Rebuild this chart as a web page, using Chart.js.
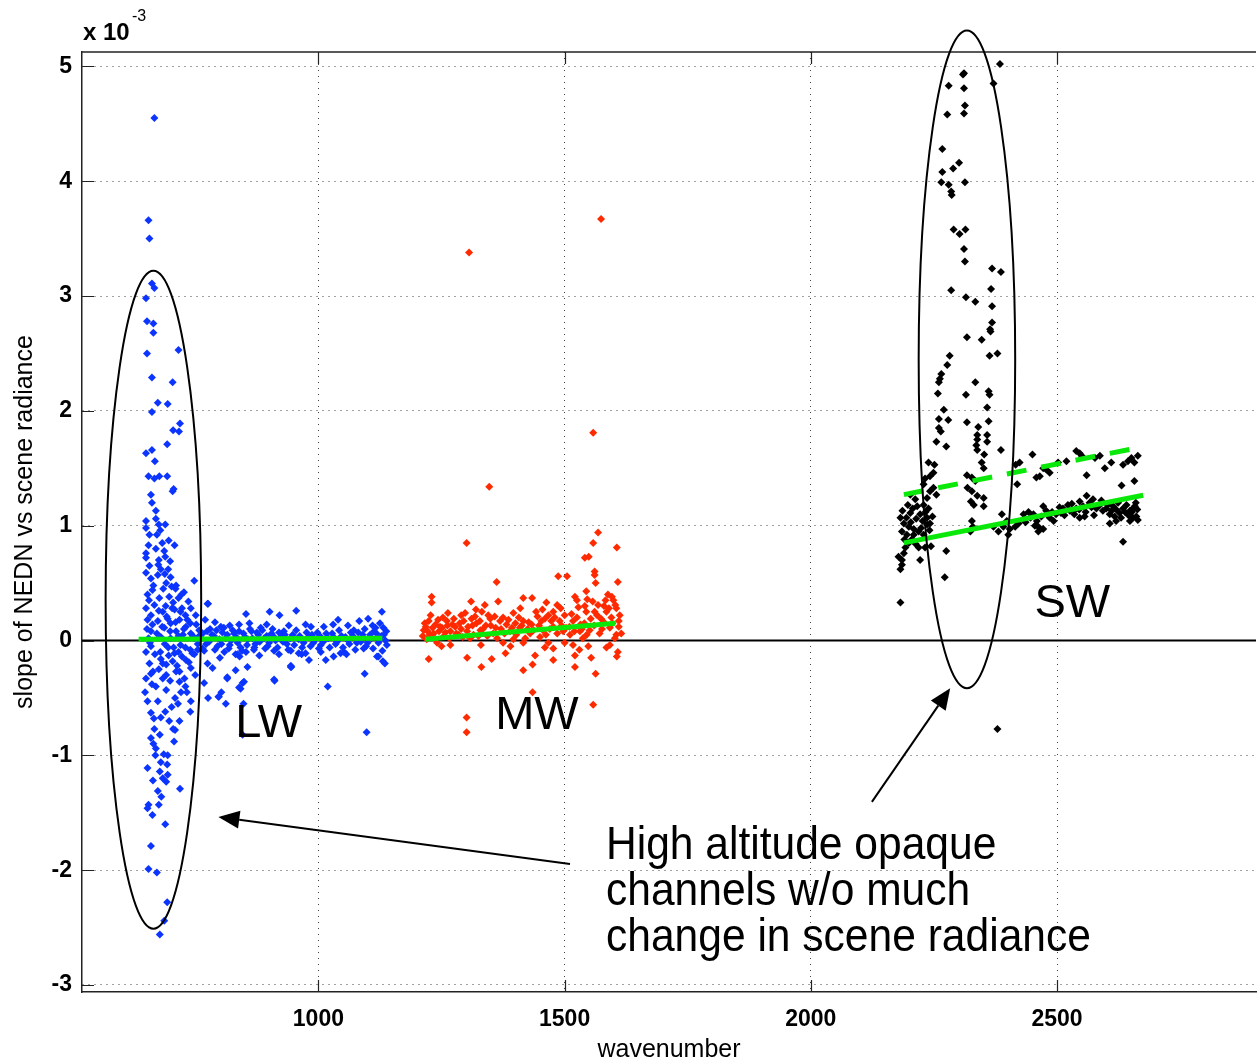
<!DOCTYPE html>
<html>
<head>
<meta charset="utf-8">
<title>slope of NEDN vs scene radiance</title>
<script src="https://cdn.jsdelivr.net/npm/chart.js@4.4.1/dist/chart.umd.min.js"></script>
<style>
  html, body { margin: 0; padding: 0; background: #fff; }
  #wrap { width: 1260px; height: 1064px; }
</style>
</head>
<body>
<div id="wrap"><canvas id="nednChart" width="1260" height="1064"></canvas></div>
<script>
// axis ranges and ticks (y in units of 1e-3)
const xMin = 520, xMax = 2904;
const yMin = -3.061, yMax = 5.125;
const xTicks = [1000, 1500, 2000, 2500];
const yTicks = [-3, -2, -1, 0, 1, 2, 3, 4, 5];

// LW band channels [wavenumber, slope]
const lwPoints = [
  [667,4.55],[655,3.66],[657,3.50],[662,3.11],[667,3.07],[650,2.98],[652,2.78],[665,2.76],[665,2.68],[716,2.53],
  [652,2.50],[662,2.29],[704,2.25],[674,2.07],[694,2.06],[662,1.99],[719,1.89],[705,1.83],[717,1.82],[693,1.71],
  [650,1.63],[662,1.66],[668,1.56],[655,1.43],[667,1.41],[677,1.43],[693,1.43],[706,1.32],[704,1.30],[660,1.27],
  [670,1.13],[650,1.04],[670,1.06],[676,1.01],[689,1.01],[650,0.98],[657,0.92],[679,0.96],[696,0.87],[708,0.83],
  [655,0.83],[650,0.76],[670,0.80],[687,0.78],[650,0.72],[676,0.70],[699,0.69],[689,0.73],[657,0.65],[650,0.59],
  [660,0.54],[674,0.57],[691,0.50],[711,0.48],[748,0.52],[727,0.42],[663,0.44],[653,0.40],[677,0.37],[697,0.38],
  [716,0.37],[650,0.28],[667,0.31],[684,0.25],[708,0.27],[723,0.28],[741,0.28],[775,0.32],[653,0.18],[674,0.17],
  [694,0.19],[718,0.18],[751,0.22],[660,0.08],[687,0.11],[711,0.08],[731,0.12],[758,0.09],
  [680,0.62],[700,0.55],[665,0.48],[685,0.45],[705,0.33],[730,0.22],[690,0.30],[660,0.22],[700,0.15],[740,0.15],
  [725,0.05],[745,0.04],[680,0.03],[700,0.02],[655,0.02],
  [853,0.23],[901,0.25],[921,0.22],[955,0.26],[1040,0.18],[1083,0.17],[1101,0.19],[1129,0.25],[1132,0.11],[776,0.32],
  [974,0.14],[1011,0.12],[839,0.14],[802,0.12],[883,0.11],[930,0.08],[1072,0.09],[1116,0.11],
  [765,0.06],[772,-0.03],[780,0.10],[788,0.04],[795,-0.05],[805,0.07],[812,0.02],[820,-0.04],[826,0.09],[833,0.03],
  [842,-0.06],[848,0.06],[857,0.01],[864,0.08],[872,-0.03],[878,0.05],[890,0.02],[897,-0.05],[905,0.06],[913,0.00],
  [925,0.04],[936,-0.03],[948,0.05],[960,0.01],[967,-0.06],[980,0.03],[990,-0.02],[998,0.07],[1005,-0.04],[1020,0.02],
  [1028,0.06],[1035,-0.03],[1047,0.04],[1060,0.00],[1066,0.07],[1078,-0.02],[1090,0.05],[1097,-0.05],[1108,0.02],[1113,0.08],
  [1122,-0.02],[1128,0.04],[1136,0.00],[1138,0.08],
  [762,0.02],[768,-0.09],[774,0.08],[778,-0.01],[784,0.05],[790,-0.08],[793,0.09],[799,0.01],[803,-0.03],[808,0.11],
  [815,0.05],[818,-0.07],[823,0.00],[829,0.06],[836,-0.02],[839,0.08],[845,-0.09],[851,0.03],[855,-0.04],[861,0.10],
  [866,0.02],[870,-0.06],[875,0.07],[881,-0.01],[886,0.09],[892,-0.07],[895,0.04],[900,-0.02],[907,0.10],[910,0.03],
  [917,-0.06],[920,0.07],[928,-0.01],[932,0.05],[939,-0.08],[943,0.02],[951,-0.04],[955,0.09],[962,0.04],[970,-0.02],
  [976,0.07],[984,-0.05],[987,0.05],[994,0.01],[1001,-0.07],[1003,0.04],[1010,-0.01],[1016,0.06],[1023,-0.06],[1031,0.03],
  [1038,-0.01],[1042,0.09],[1050,-0.06],[1055,0.03],[1063,-0.03],[1070,0.04],[1075,-0.08],[1081,0.07],[1086,-0.01],[1094,0.10],
  [1100,-0.02],[1105,0.05],[1111,-0.07],[1118,0.06],[1125,0.01],[1130,-0.09],[1133,0.05],[1139,-0.04],[1125,0.15],[1110,0.13],
  [1060,0.13],[1030,0.14],[985,0.12],[940,0.13],[895,0.14],[860,0.15],[820,0.13],[790,0.16],[770,0.18],[1045,-0.11],
  [1005,-0.10],[960,-0.11],[920,-0.12],[880,-0.13],[840,-0.14],[800,-0.15],[785,-0.24],
  [650,-0.10],[679,-0.10],[708,-0.11],[657,-0.20],[684,-0.20],[704,-0.18],[731,-0.17],[748,-0.12],[775,-0.20],[832,-0.12],
  [853,-0.10],[944,-0.22],[966,-0.12],[981,-0.17],[1015,-0.17],[1057,-0.12],[1119,-0.14],[1135,-0.20],[660,-0.29],[691,-0.30],
  [718,-0.27],[815,-0.32],[910,-0.34],[1094,-0.29],
  [765,-0.07],[809,-0.10],[836,-0.12],[869,-0.08],[910,-0.09],[944,-0.09],[974,-0.11],[1031,-0.14],[1052,-0.10],[1092,-0.07],
  [1122,-0.14],[1131,-0.18],[944,-0.23],[856,-0.23],[832,-0.26],[911,-0.35],[846,-0.37],[842,-0.42],[803,-0.45],[797,-0.49],
  [776,-0.50],[812,-0.55],[1019,-0.40],[1098,-0.80],
  [660,-0.05],[695,-0.06],[720,-0.04],[740,-0.08],[755,-0.03],
  [652,0.10],[658,-0.02],[663,0.14],[668,-0.12],[672,0.06],[676,0.26],[680,-0.16],[683,0.12],[688,-0.03],[692,0.21],
  [696,-0.13],[699,0.08],[703,0.28],[706,-0.06],[710,0.16],[713,-0.22],[716,0.04],[720,0.25],[723,-0.14],[727,0.10],
  [730,-0.06],[734,0.18],[737,-0.19],[741,0.06],[744,-0.11],[748,0.02],[752,0.14],[755,-0.08],[758,0.04],[736,0.34],
  [722,0.40],[710,0.45],[695,0.62],[683,0.85],[672,0.92],[662,1.20],[675,0.66],[688,0.58],[702,0.47],[656,0.35],
  [662,-0.38],[676,-0.25],[699,-0.35],[715,-0.55],[730,-0.40],[750,-0.30],[680,-0.67],[697,-0.70],[664,-1.22],[681,-1.36],
  [707,-0.88],[716,-0.10],
  [650,-0.33],[648,-0.45],[653,-0.53],[660,-0.63],[666,-0.68],[667,-0.77],[660,-0.85],[665,-0.90],[670,-0.94],[669,-1.00],
  [653,-1.11],[680,-1.06],[694,-1.00],[693,-1.08],[678,-1.14],[694,-1.17],[691,-1.23],[684,-1.20],[719,-1.29],[674,-1.31],
  [655,-1.43],[653,-1.46],[676,-1.43],[663,-1.52],[689,-1.60],[660,-1.79],[655,-1.99],[672,-2.02],[693,-2.28],[687,-2.44],
  [678,-2.56],
  [691,-0.21],[711,-0.27],[728,-0.33],[741,-0.24],[721,-0.45],[691,-0.43],[670,-0.40],[709,-0.50],[733,-0.45],[741,-0.53],
  [689,-0.62],[702,-0.58],[740,-0.62],[718,-0.70],[705,-0.77],[709,-0.78],[678,-0.82],[686,-0.99],[684,-0.33],[664,-0.27],
  [718,-0.36],[674,-0.53],[768,-0.37],[798,-0.49],[815,-0.33],[839,-0.41],[849,-0.36],[848,-0.55],[846,-0.82],[945,-0.23]
];

// MW band channels
const mwPoints = [
  [1306,3.38],[1574,3.67],[1347,1.34],[1558,1.81],[1301,0.85],[1568,0.94],[1558,0.85],[1606,0.81],[1541,0.72],[1549,0.73],
  [1561,0.60],[1561,0.57],[1563,0.50],[1608,0.51],[1487,0.56],[1505,0.56],[1362,0.51],[1230,0.38],[1230,0.33],[1310,0.34],
  [1365,0.34],[1416,0.37],[1434,0.37],[1463,0.33],[1521,0.38],[1525,0.35],[1544,0.43],[1546,0.36],[1588,0.40],[1596,0.38],
  [1599,0.35],[1541,0.30],[1544,0.25],[1568,0.31],[1485,0.31],[1477,0.25],[1467,0.22],[1338,0.31],[1332,0.25],[1396,0.24],
  [1263,0.24],[1224,0.17],[1261,0.17],[1295,0.17],[1311,0.19],[1321,0.15],[1349,0.19],[1369,0.17],[1382,0.14],[1416,0.17],
  [1433,0.14],[1460,0.19],[1490,0.17],[1500,0.22],[1517,0.17],[1532,0.14],[1561,0.25],[1574,0.19],[1585,0.25],[1605,0.28],
  [1612,0.22],[1214,0.09],[1234,0.06],[1251,0.11],[1268,0.08],[1278,0.12],[1302,0.08],[1329,0.09],[1355,0.06],[1389,0.08],
  [1409,0.11],[1430,0.06],[1456,0.09],[1477,0.12],[1497,0.08],[1511,0.05],[1531,0.08],[1551,0.09],[1571,0.06],[1592,0.11],
  [1605,0.05],[1220,0.01],[1241,-0.02],[1268,-0.04],[1375,-0.02],[1396,0.01],[1416,-0.02],[1467,-0.02],[1477,-0.07],[1500,-0.02],
  [1517,-0.04],[1537,0.02],[1548,-0.05],[1592,-0.04],[1602,0.02],[1224,-0.16],[1302,-0.15],[1352,-0.16],[1380,-0.11],[1440,-0.13],
  [1477,-0.17],[1521,-0.13],[1554,-0.15],[1608,-0.10],[1606,-0.14],[1331,-0.23],[1435,-0.21],[1416,-0.26],[1521,-0.23],[1563,-0.29],
  [1435,-0.45],[1558,-0.56],[1301,-0.67],[1301,-0.80],
  [1218,0.12],[1226,0.05],[1238,0.14],[1245,0.08],[1255,0.04],[1272,0.14],[1285,0.05],[1290,0.10],[1315,0.05],[1340,0.13],
  [1360,0.11],[1375,0.20],[1400,0.15],[1425,0.10],[1445,0.21],[1450,0.03],[1470,0.10],[1485,0.06],[1510,0.12],[1525,0.20],
  [1540,0.15],[1560,0.13],[1580,0.16],[1595,0.20],[1610,0.12],[1290,0.22],[1320,0.27],[1345,0.22],[1410,0.28],[1455,0.27],
  [1492,0.28],[1580,0.30],
  [1212,0.04],[1216,0.15],[1222,0.08],[1228,0.22],[1232,0.11],[1236,0.02],[1243,0.18],[1247,0.12],[1253,0.20],[1258,0.07],
  [1262,0.13],[1266,0.02],[1275,0.19],[1280,0.06],[1287,0.15],[1293,0.03],[1298,0.24],[1304,0.12],[1308,0.02],[1313,0.13],
  [1318,0.21],[1325,0.04],[1328,0.17],[1334,0.10],[1343,0.04],[1350,0.13],[1358,0.21],[1363,0.02],[1371,0.10],[1378,0.06],
  [1386,0.18],[1393,0.11],[1402,0.05],[1407,0.20],[1413,0.13],[1420,0.02],[1427,0.16],[1437,0.09],[1442,0.25],[1448,0.13],
  [1453,0.17],[1462,0.05],[1473,0.17],[1480,0.20],[1494,0.13],[1503,0.11],[1514,0.23],[1520,0.08],[1528,0.29],[1535,0.10],
  [1545,0.05],[1553,0.19],[1557,0.34],[1566,0.22],[1576,0.10],[1583,0.35],[1590,0.28],[1597,0.15],[1603,0.31],[1610,0.17],
  [1615,0.06],[1585,-0.06],[1530,-0.08],[1460,-0.06],[1390,-0.05],[1330,-0.04],[1250,-0.05]
];

// SW band channels
const swPoints = [
  [2384,5.02],[2311,4.94],[2309,4.93],[2280,4.83],[2311,4.81],[2371,4.85],[2313,4.66],[2311,4.59],[2277,4.58],[2267,4.28],
  [2301,4.16],[2289,4.11],[2267,4.08],[2265,3.99],[2280,3.97],[2285,3.91],[2286,3.88],[2313,3.99],[2290,3.58],[2302,3.54],
  [2314,3.58],[2311,3.41],[2313,3.30],[2368,3.24],[2386,3.21],[2285,3.05],[2366,3.06],[2315,2.99],[2334,2.95],[2368,2.91],
  [2368,2.77],[2364,2.71],[2365,2.69],[2317,2.64],[2347,2.62],
  [2363,2.48],[2379,2.50],[2282,2.48],[2277,2.40],[2265,2.32],[2262,2.28],[2260,2.25],[2334,2.25],[2258,2.15],[2315,2.14],
  [2361,2.17],[2363,2.14],[2358,2.03],[2270,2.01],[2260,1.93],[2279,1.92],[2317,1.90],[2361,1.91],[2260,1.85],[2264,1.82],
  [2340,1.86],[2338,1.79],[2358,1.79],[2338,1.75],[2336,1.70],[2338,1.66],[2255,1.73],[2358,1.73],[2275,1.69],[2386,1.66],
  [2352,1.62],[2347,1.55],[2351,1.50],[2239,1.55],[2251,1.53],[2249,1.46],[2242,1.43],[2232,1.41],[2229,1.36],[2317,1.44],
  [2327,1.42],[2334,1.39],[2318,1.33],[2327,1.30],[2338,1.26],[2351,1.24],[2325,1.21],[2331,1.18],[2351,1.17],[2249,1.33],
  [2255,1.27],[2242,1.30],[2236,1.24],[2202,1.27],[2212,1.23],[2197,1.18],[2216,1.17],[2229,1.18],[2239,1.15],[2202,1.11],
  [2222,1.10],[2236,1.07],[2182,1.07],[2189,1.02],[2199,0.99],[2209,0.97],[2227,1.04],[2236,1.01],[2242,1.02],[2185,0.95],
  [2195,0.92],[2209,0.92],[2219,0.95],[2229,0.92],[2199,0.85],[2192,0.81],[2219,0.81],[2232,0.81],[2244,0.82],[2275,0.78],
  [2178,0.73],[2185,0.70],[2189,0.76],[2182,0.62],[2185,0.66],[2222,0.70],[2272,0.55],[2182,0.33],[2379,-0.77],[2327,1.04],
  [2329,0.99],[2324,0.95],[2388,1.10],[2398,1.04],[2391,0.99],[2404,0.97],[2401,0.92],[2371,0.99],[2381,0.95],[2415,0.99],
  [2422,1.02],[2419,1.36],[2416,1.53],[2424,1.55],[2450,1.62],[2458,1.42],[2465,1.43],[2472,1.50],[2485,1.46],[2478,1.49],
  [2502,1.55],[2519,1.56],[2539,1.65],[2546,1.63],[2550,1.61],[2560,1.44],[2577,1.59],[2587,1.61],[2597,1.50],[2610,1.55],
  [2634,1.53],[2644,1.56],[2651,1.59],[2657,1.55],[2664,1.61],[2631,1.35],[2657,1.39],
  [2432,1.10],[2446,1.07],[2452,1.10],[2459,1.04],[2462,0.99],[2472,0.97],[2462,0.95],[2472,1.17],[2478,1.13],[2485,1.07],
  [2498,1.10],[2508,1.11],[2512,1.15],[2522,1.18],[2526,1.13],[2539,1.15],[2546,1.21],[2553,1.17],[2546,1.07],[2556,1.08],
  [2566,1.20],[2580,1.15],[2587,1.18],[2593,1.13],[2600,1.15],[2607,1.10],[2614,1.17],[2620,1.14],[2627,1.11],[2634,1.15],
  [2641,1.18],[2648,1.13],[2654,1.15],[2660,1.20],[2661,1.08],[2607,1.02],[2620,1.04],[2634,0.86],[2560,1.26],[2573,1.23],
  [2654,1.07],[2648,1.04],
  [2436,1.03],[2442,1.12],[2455,1.00],[2468,1.08],[2490,1.12],[2493,1.04],[2505,1.16],[2515,1.09],[2530,1.19],[2535,1.10],
  [2545,1.14],[2558,1.12],[2570,1.16],[2575,1.09],[2590,1.22],[2603,1.18],[2611,1.13],[2617,1.08],[2624,1.20],[2630,1.07],
  [2638,1.12],[2645,1.09],[2652,1.12],[2658,1.17],[2663,1.14],[2664,1.05],
  [2186,1.13],[2194,1.07],[2203,1.03],[2207,1.15],[2214,1.06],[2224,0.98],[2233,1.12],[2241,0.96],[2247,1.08],[2190,0.88],
  [2205,0.88],[2213,0.84]
];

// linear fits (end points)
const lwFitX = [635, 1130],   lwFitY = [0.01, 0.02];
const mwFitX = [1217, 1603],  mwFitY = [0.01, 0.15];
const swFitX = [2189, 2675],  swFitY = [0.85, 1.265];
const swHighX = [2189, 2654], swHighY = [1.27, 1.67];

// annotations (data units): ellipse [cx, cy, rx, ry], arrows [fromX, fromY, toX, toY]
const lwRing = [665, 0.355, 97, 2.865];
const swRing = [2317, 2.448, 98, 2.864];
const arrows = [[1511, -1.946, 797, -1.536], [2124, -1.405, 2283, -0.416]];
const bandLabels = [['LW', 831, -0.838], ['MW', 1359, -0.768], ['SW', 2454, 0.209]];
const noteLines = ['High altitude opaque', 'channels w/o much', 'change in scene radiance'];
const noteAt = [1584, -1.902, -2.304, -2.705];

const FONT = "'Liberation Sans', Arial, Helvetica, sans-serif";
const GREEN = 'rgb(10,232,10)';

const pts = arr => arr.map(p => ({ x: p[0], y: p[1] }));
const seg = (xs, ys) => xs.map((v, i) => ({ x: v, y: ys[i] }));

function scatterSet(label, data, color) {
    return {
        label: label,
        data: pts(data),
        backgroundColor: color,
        borderWidth: 0,
        pointStyle: 'rectRot',
        pointRadius: 4,
        showLine: false,
        order: 1
    };
}

function fitSet(label, xs, ys, dash) {
    return {
        label: label,
        data: seg(xs, ys),
        borderColor: GREEN,
        borderWidth: 5,
        borderDash: dash || [],
        pointRadius: 0,
        showLine: true,
        order: 0
    };
}

// 註解: 框線、內側刻度、橢圓、箭頭和文字
const annotations = {
    id: 'annotations',
    afterDatasetsDraw(chart) {
        const { ctx, chartArea: a, scales: { x, y } } = chart;
        ctx.save();
        ctx.strokeStyle = '#222';
        ctx.lineWidth = 1.5;
        ctx.beginPath();
        ctx.moveTo(a.left, a.top);
        ctx.lineTo(a.right, a.top);
        ctx.stroke();

        // inward ticks like matlab
        ctx.lineWidth = 1.2;
        ctx.beginPath();
        xTicks.forEach(v => {
            const px = Math.round(x.getPixelForValue(v)) + 0.5;
            ctx.moveTo(px, a.bottom); ctx.lineTo(px, a.bottom - 12);
            ctx.moveTo(px, a.top); ctx.lineTo(px, a.top + 12);
        });
        yTicks.forEach(v => {
            const py = Math.round(y.getPixelForValue(v)) + 0.5;
            ctx.moveTo(a.left, py); ctx.lineTo(a.left + 12, py);
        });
        ctx.stroke();

        // ellipses
        ctx.strokeStyle = '#000';
        ctx.lineWidth = 2;
        [lwRing, swRing].forEach(r => {
            const cx = x.getPixelForValue(r[0]), cy = y.getPixelForValue(r[1]);
            const rx = x.getPixelForValue(r[0] + r[2]) - cx;
            const ry = cy - y.getPixelForValue(r[1] + r[3]);
            ctx.beginPath();
            ctx.ellipse(cx, cy, rx, ry, 0, 0, Math.PI * 2);
            ctx.stroke();
        });

        // arrows
        arrows.forEach(ar => {
            const x1 = x.getPixelForValue(ar[0]), y1 = y.getPixelForValue(ar[1]);
            const x2 = x.getPixelForValue(ar[2]), y2 = y.getPixelForValue(ar[3]);
            const ang = Math.atan2(y2 - y1, x2 - x1);
            const len = 21, half = 9;
            const bx = x2 - Math.cos(ang) * len, by = y2 - Math.sin(ang) * len;
            ctx.beginPath();
            ctx.moveTo(x1, y1);
            ctx.lineTo(bx, by);
            ctx.stroke();
            ctx.fillStyle = '#000';
            ctx.beginPath();
            ctx.moveTo(x2, y2);
            ctx.lineTo(bx + Math.sin(ang) * half, by - Math.cos(ang) * half);
            ctx.lineTo(bx - Math.sin(ang) * half, by + Math.cos(ang) * half);
            ctx.closePath();
            ctx.fill();
        });

        // text
        ctx.fillStyle = '#000';
        ctx.textAlign = 'left';
        ctx.textBaseline = 'alphabetic';
        ctx.font = '47px ' + FONT;
        bandLabels.forEach(b => {
            ctx.fillText(b[0], x.getPixelForValue(b[1]), y.getPixelForValue(b[2]));
        });

        ctx.font = '46px ' + FONT;
        const nx = x.getPixelForValue(noteAt[0]);
        noteLines.forEach((t, i) => {
            ctx.save();
            ctx.translate(nx, y.getPixelForValue(noteAt[i + 1]));
            ctx.scale(0.925, 1);
            ctx.fillText(t, 0, 0);
            ctx.restore();
        });

        // exponent label
        ctx.font = 'bold 24px ' + FONT;
        ctx.fillText('x 10', a.left + 1, a.top - 12);
        ctx.font = '16px ' + FONT;
        ctx.fillText('-3', a.left + 50, a.top - 31);
        ctx.restore();
    }
};

const ctx = document.getElementById('nednChart').getContext('2d');
window.nednChart = new Chart(ctx, {
    type: 'scatter',
    data: {
        datasets: [
            fitSet('LW fit', lwFitX, lwFitY),
            fitSet('MW fit', mwFitX, mwFitY),
            fitSet('SW fit', swFitX, swFitY),
            fitSet('SW upper', swHighX, swHighY, [20, 15]),
            scatterSet('LW', lwPoints, 'rgb(12,52,255)'),
            scatterSet('MW', mwPoints, 'rgb(255,42,0)'),
            scatterSet('SW', swPoints, '#000'),
            {
                label: 'zero',
                data: seg([xMin, xMax], [0, 0]),
                borderColor: '#000',
                borderWidth: 2,
                pointRadius: 0,
                showLine: true,
                order: 2
            }
        ]
    },
    options: {
        responsive: false,
        animation: false,
        devicePixelRatio: 1,
        layout: { padding: { top: 52, right: 0, bottom: 0, left: 0 } },
        plugins: {
            legend: { display: false },
            tooltip: { enabled: false }
        },
        scales: {
            x: {
                type: 'linear',
                min: xMin,
                max: xMax,
                afterBuildTicks: s => { s.ticks = xTicks.map(v => ({ value: v })); },
                afterFit: s => { s.height = 72; },
                ticks: {
                    callback: v => String(v),
                    color: '#000',
                    font: { family: FONT, size: 23, weight: 'bold' },
                    padding: 14,
                    maxRotation: 0,
                    autoSkip: false
                },
                grid: { color: '#444', lineWidth: 1, drawTicks: false },
                border: { display: true, color: '#222', width: 1.5, dash: [1, 5] },
                title: {
                    display: true,
                    text: 'wavenumber',
                    color: '#000',
                    font: { family: FONT, size: 25, lineHeight: 1.1 },
                    padding: { top: 0, bottom: 0 }
                }
            },
            y: {
                type: 'linear',
                min: yMin,
                max: yMax,
                afterBuildTicks: s => { s.ticks = yTicks.map(v => ({ value: v })); },
                afterFit: s => { s.width = 82; },
                ticks: {
                    callback: v => String(v),
                    color: '#000',
                    font: { family: FONT, size: 23, weight: 'bold' },
                    padding: 10,
                    autoSkip: false
                },
                grid: { color: '#444', lineWidth: 1, drawTicks: false },
                border: { display: true, color: '#222', width: 1.5, dash: [1, 5] },
                title: {
                    display: true,
                    text: 'slope of NEDN vs scene radiance',
                    color: '#000',
                    font: { family: FONT, size: 25 },
                    padding: { top: 10, bottom: 0 }
                }
            }
        }
    },
    plugins: [annotations]
});
</script>
</body>
</html>
